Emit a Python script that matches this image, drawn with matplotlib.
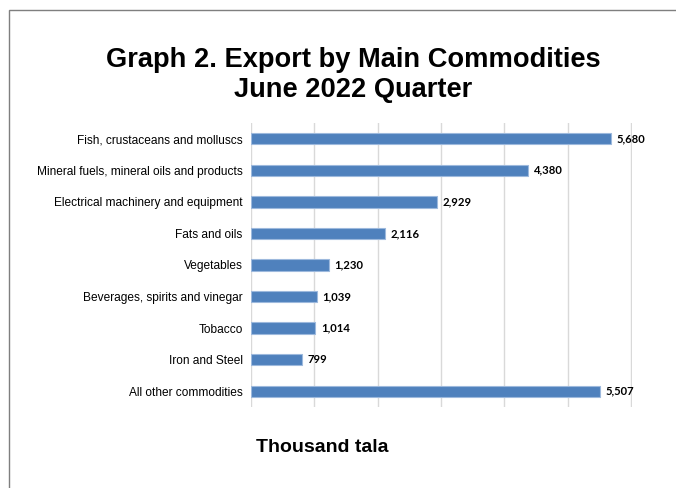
import matplotlib
matplotlib.use("Agg")
import matplotlib.pyplot as plt
from matplotlib.patches import Rectangle

categories = [
    "Fish, crustaceans and molluscs",
    "Mineral fuels, mineral oils and products",
    "Electrical machinery and equipment",
    "Fats and oils",
    "Vegetables",
    "Beverages, spirits and vinegar",
    "Tobacco",
    "Iron and Steel",
    "All other commodities",
]
values = [5680, 4380, 2929, 2116, 1230, 1039, 1014, 799, 5507]
x_ticks = [0, 1000, 2000, 3000, 4000, 5000, 6000]

W, H = 676, 488
fig = plt.figure(figsize=(W / 100, H / 100), dpi=100)
fig.patch.set_facecolor("white")

# chart frame (left and top edges visible)
fig.add_artist(Rectangle((9 / W, -0.05), 1.2, 1.05 - 10 / H,
                         transform=fig.transFigure, fill=False,
                         edgecolor="#7f7f7f", linewidth=1.0))

ax = fig.add_axes([251 / W, 1 - 407 / H, (632 - 251) / W, (407 - 123) / H])
ypos = list(range(len(categories)))
ax.barh(ypos, values, height=0.36, color="#4F81BD", edgecolor="#9DB9DD",
        linewidth=0.8, zorder=3)
ax.set_ylim(len(categories) - 0.5, -0.5)
ax.set_xlim(0, 6015)
ax.set_xticks(x_ticks)
ax.set_xticklabels([])
ax.set_yticks(ypos)
ax.set_yticklabels(categories, family="Liberation Sans", fontsize=8.6)
ax.tick_params(axis="both", length=0, pad=6)
ax.grid(axis="x", color="#D9D9D9", linewidth=1.0, zorder=0)
for s in ax.spines.values():
    s.set_visible(False)

for y, v in zip(ypos, values):
    ax.text(v + 90, y, f"{v:,}", va="center", ha="left",
            family="Lato", fontweight="bold", fontsize=8.1, color="black")

fig.text(353 / W, 1 - 75 / H, "Graph 2. Export by Main Commodities\nJune 2022 Quarter",
         ha="center", va="center", family="Liberation Sans", fontweight="bold",
         fontsize=19.6, linespacing=1.2)
fig.text(322 / W, 1 - 447 / H, "Thousand tala", ha="center", va="center",
         family="Liberation Sans", fontweight="bold", fontsize=14)

fig.savefig("out.png", dpi=100)
